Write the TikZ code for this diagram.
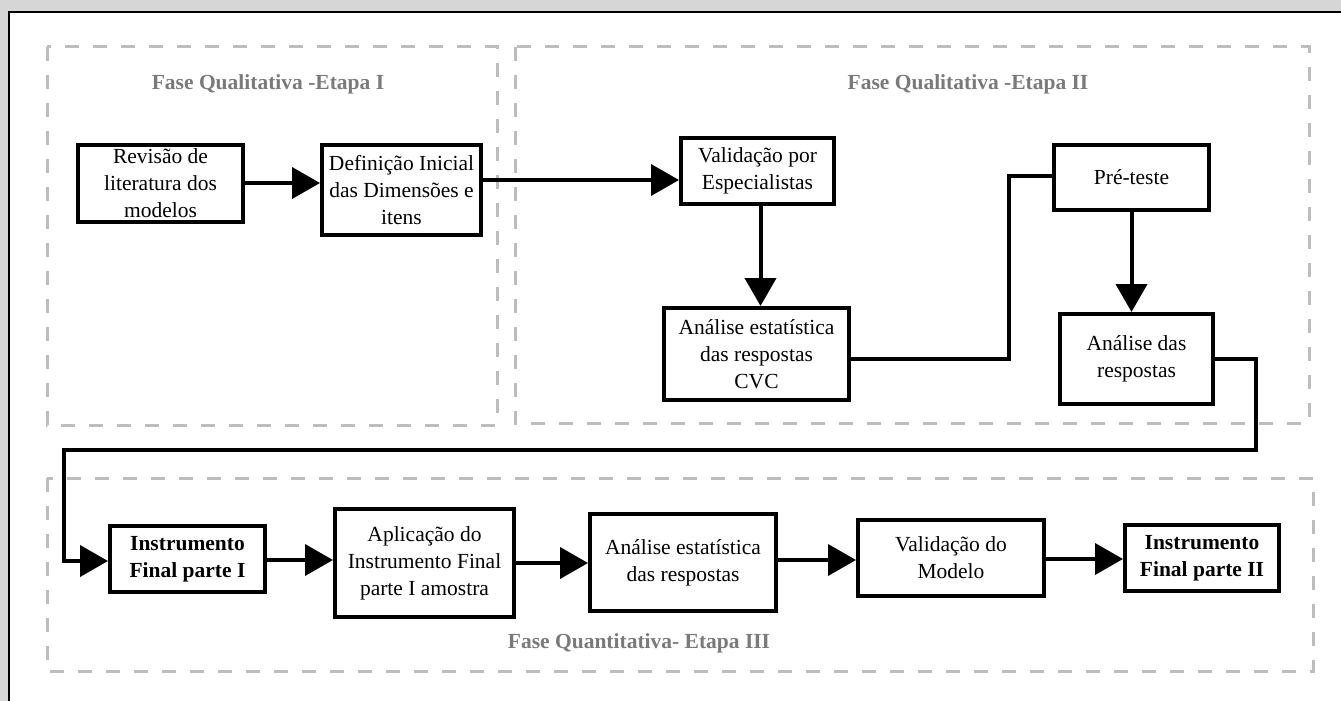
\documentclass[tikz,border=0pt]{standalone}
\usepackage{fontspec}
\setmainfont{Liberation Serif}
\usetikzlibrary{arrows.meta,calc}
\definecolor{bgtex}{HTML}{D6D6D6}
\definecolor{dashgray}{HTML}{BDBDBD}
\definecolor{titlegray}{HTML}{7A7A7A}
\begin{document}
\begin{tikzpicture}[x=1pt,y=-1pt,
  stepbox/.style={draw=black,line width=4pt,fill=white,inner sep=0pt,align=center,
    font=\fontsize{21.5}{27}\selectfont},
  boldbox/.style={stepbox,font=\fontsize{21.5}{27}\selectfont\bfseries},
  phase/.style={draw=dashgray,line width=3pt,dash pattern=on 14pt off 14pt},
  phasetitle/.style={text=titlegray,font=\fontsize{21.5}{27}\selectfont\bfseries,inner sep=0pt},
  conn/.style={draw=black,line width=4pt},
  arr/.style={conn,-{Triangle[length=28pt,width=31pt]}}
]
\useasboundingbox (0,0) rectangle (1341,701);
% background frame
\fill[bgtex] (0,0) rectangle (1341,701);
\draw[fill=white,line width=2pt] (9,12) rectangle (1360,720);

% phase containers
\draw[phase] (47,47) rectangle (497,425);
\draw[phase] (515,47) rectangle (1309,423);
\draw[phase] (47,478) rectangle (1313,671);
\node[phasetitle] (t1) at (268,84) {Fase Qualitativa -Etapa I};
\node[phasetitle] (t2) at (968,84) {Fase Qualitativa -Etapa II};
\node[phasetitle] (t3) at (639,643) {Fase Quantitativa- Etapa III};

% boxes
\node[stepbox,minimum width=165pt,minimum height=77pt] (A) at (160.5,183.5) {Revisão de\\literatura dos\\modelos};
\node[stepbox,minimum width=159pt,minimum height=90pt] (B) at (401.5,190) {Definição Inicial\\das Dimensões e\\itens};
\node[stepbox,minimum width=153pt,minimum height=66pt] (C) at (757.5,171) {Validação por\\Especialistas};
\node[stepbox,minimum width=185pt,minimum height=92pt] (D) at (756.5,354) {Análise estatística\\das respostas\\CVC};
\node[stepbox,minimum width=155pt,minimum height=65pt] (E) at (1131.5,177.5) {Pré-teste};
\node[stepbox,minimum width=153pt,minimum height=90pt] (F) at (1136.5,359) {Análise das\\respostas};
\node[boldbox,minimum width=155pt,minimum height=66pt] (G) at (187.5,559) {Instrumento\\Final parte I};
\node[stepbox,minimum width=179pt,minimum height=108pt] (H) at (424.5,563) {Aplicação do\\Instrumento Final\\parte I amostra};
\node[stepbox,minimum width=186pt,minimum height=97pt] (I) at (683,562.5) {Análise estatística\\das respostas};
\node[stepbox,minimum width=186pt,minimum height=76pt] (J) at (951,557.5) {Validação do\\Modelo};
\node[boldbox,minimum width=154pt,minimum height=66pt] (K) at (1202,558) {Instrumento\\Final parte II};

% helper coordinates
\coordinate (yab) at (0,183);
\coordinate (ybc) at (0,180);
\coordinate (yde) at (0,359);
\coordinate (ye) at (0,176);
\coordinate (xde) at (1009,0);
\coordinate (xfg) at (1256,0);
\coordinate (yfg) at (0,450);
\coordinate (xgl) at (64,0);
\coordinate (yg) at (0,561);
\coordinate (ygh) at (0,560);
\coordinate (yhi) at (0,563);
\coordinate (yij) at (0,560);
\coordinate (yjk) at (0,559);

% connectors
\draw[arr] (A.east |- yab) -- (B.west |- yab);
\draw[arr] (B.east |- ybc) -- (C.west |- ybc);
\draw[arr] ($(C.south)+(3,0)$) -- ($(D.north)+(4,0)$);
\draw[conn] (D.east |- yde) -- (xde |- yde) -- (xde |- ye) -- (E.west |- ye);
\draw[arr] (E.south) -- (E.south |- F.north);
\draw[arr] (F.east |- yde) -- (xfg |- yde) -- (xfg |- yfg) -- (xgl |- yfg) -- (xgl |- yg) -- (G.west |- yg);
\draw[arr] (G.east |- ygh) -- (H.west |- ygh);
\draw[arr] (H.east |- yhi) -- (I.west |- yhi);
\draw[arr] (I.east |- yij) -- (J.west |- yij);
\draw[arr] (J.east |- yjk) -- (K.west |- yjk);
\end{tikzpicture}
\end{document}
